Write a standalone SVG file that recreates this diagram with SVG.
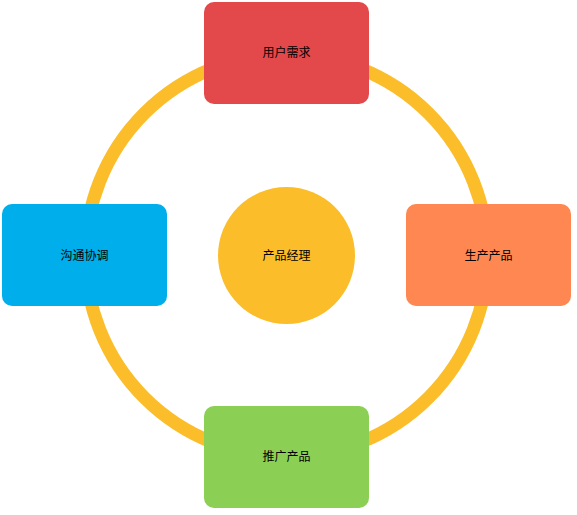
<svg xmlns="http://www.w3.org/2000/svg" width="577" height="515" viewBox="0 0 577 515">
<style>
.lbl{font-family:"Liberation Sans","Noto Sans CJK SC",sans-serif;font-size:12px;fill:#000;text-anchor:middle;dominant-baseline:central}
</style>
<rect width="577" height="515" fill="#fff"/>
<g id="connectors">
<circle cx="286.5" cy="255.5" r="201" fill="none" stroke="#FBBD2A" stroke-width="13"/>
</g>
<g id="center">
<circle cx="286.5" cy="255.5" r="68.5" fill="#FBBD2A"/>
<text class="lbl" x="286.5" y="256">产品经理</text>
</g>
<g id="top">
<rect x="204" y="2" width="165" height="102" rx="10" fill="#E3484B"/>
<text class="lbl" x="286.5" y="53">用户需求</text>
</g>
<g id="right">
<rect x="406" y="204" width="165" height="102" rx="10" fill="#FF8751"/>
<text class="lbl" x="488.5" y="256">生产产品</text>
</g>
<g id="bottom">
<rect x="204" y="406" width="165" height="102" rx="10" fill="#8CCF55"/>
<text class="lbl" x="286.5" y="457">推广产品</text>
</g>
<g id="left">
<rect x="2" y="204" width="165" height="102" rx="10" fill="#00AEEC"/>
<text class="lbl" x="84.5" y="256">沟通协调</text>
</g>
</svg>
